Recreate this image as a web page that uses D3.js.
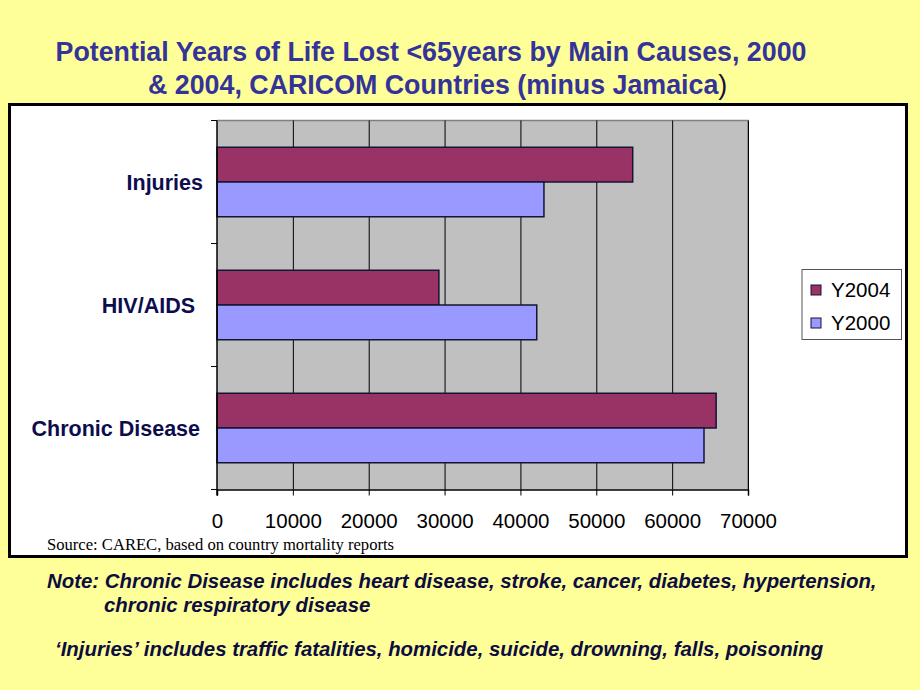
<!DOCTYPE html>
<html>
<head>
<meta charset="utf-8">
<script src="https://cdn.jsdelivr.net/npm/d3@7"></script>
<style>
  html, body { margin: 0; padding: 0; background: #FFFF99; }
  svg { display: block; }
</style>
</head>
<body>
<svg id="chart" width="920" height="690"></svg>
<script>
// ---- data ----
const categories = ["Injuries", "HIV/AIDS", "Chronic Disease"];
const seriesNames = ["Y2004", "Y2000"];
const y2004 = [54800, 29250, 65800];
const y2000 = [43100, 42150, 64200];
const xTicks = [0, 10000, 20000, 30000, 40000, 50000, 60000, 70000];
const seriesColors = ["#993366", "#9999FF"];
const titleLines = ["Potential Years of Life Lost <65years by Main Causes, 2000", "& 2004, CARICOM Countries (minus Jamaica"];
const sourceText = "Source: CAREC, based on country mortality reports";
const noteLines = [
  "Note: Chronic Disease includes heart disease, stroke, cancer, diabetes, hypertension,",
  "chronic respiratory disease",
  "\u2018Injuries\u2019 includes traffic fatalities, homicide, suicide, drowning, falls, poisoning"
];

const rows = categories.map((c, i) => ({ cat: c, values: [y2004[i], y2000[i]] }));

const svg = d3.select("#chart");
svg.append("rect").attr("x", 0).attr("y", 0).attr("width", 920).attr("height", 690).attr("fill", "#FFFF99");

// Title
const title = svg.append("g").attr("font-family", "Arial, 'Liberation Sans', sans-serif")
  .attr("font-weight", "bold").attr("font-size", 26.8).attr("fill", "#333399");
title.append("text").attr("x", 431).attr("y", 61).attr("text-anchor", "middle").text(titleLines[0]);
const t2 = title.append("text").attr("x", 148).attr("y", 94).attr("text-anchor", "start");
t2.append("tspan").text(titleLines[1]);
t2.append("tspan").attr("font-weight", "normal").attr("fill", "#111133").text(")");

// Chart box
svg.append("rect").attr("x", 9.5).attr("y", 104.5).attr("width", 897).attr("height", 452)
  .attr("fill", "#FFFFFF").attr("stroke", "#000000").attr("stroke-width", 3);

const plot = { left: 217, right: 748, top: 120.5, bottom: 489.5 };

const x = d3.scaleLinear().domain([0, 70000]).range([plot.left, plot.right]);
const y = d3.scaleBand().domain(categories).range([plot.top, plot.bottom])
  .paddingInner(0.435).paddingOuter(0.2175);
const ySub = d3.scaleBand().domain(seriesNames).range([0, y.bandwidth()]);
const color = d3.scaleOrdinal().domain(seriesNames).range(seriesColors);

// plot background
svg.append("rect").attr("x", plot.left).attr("y", plot.top)
  .attr("width", plot.right - plot.left).attr("height", plot.bottom - plot.top)
  .attr("fill", "#C0C0C0");

// top and right border (grey)
svg.append("path")
  .attr("d", `M${plot.left},${plot.top}H${plot.right}V${plot.bottom}`)
  .attr("fill", "none").attr("stroke", "#808080").attr("stroke-width", 1.5);

// gridlines
svg.append("g").attr("transform", `translate(0,${plot.bottom})`)
  .call(d3.axisBottom(x).tickValues(xTicks.slice(1)).tickSize(-(plot.bottom - plot.top)).tickFormat(""))
  .call(g => g.select(".domain").remove())
  .call(g => g.selectAll("line").attr("stroke", "#000000").attr("stroke-width", 1));

// bars
const groups = svg.append("g").selectAll("g").data(rows).join("g")
  .attr("transform", d => `translate(0,${y(d.cat)})`);
groups.selectAll("rect").data(d => d.values.map((v, i) => ({ key: seriesNames[i], v })))
  .join("rect")
  .attr("x", x(0))
  .attr("y", d => ySub(d.key))
  .attr("width", d => x(d.v) - x(0))
  .attr("height", ySub.bandwidth())
  .attr("fill", d => color(d.key))
  .attr("stroke", "#141433")
  .attr("stroke-width", 1.5);

// x axis
const xAxis = svg.append("g").attr("transform", `translate(0,${plot.bottom})`)
  .call(d3.axisBottom(x).tickValues(xTicks).tickSize(6).tickPadding(14).tickFormat(d3.format("d")));
xAxis.select(".domain").attr("stroke", "#000").attr("stroke-width", 1.5);
xAxis.selectAll("line").attr("stroke", "#000");
xAxis.selectAll("text").attr("font-family", "Arial, 'Liberation Sans', sans-serif")
  .attr("font-size", 20.5).attr("fill", "#000").attr("dy", "0.9em");

// y axis (ticks at category boundaries)
const boundaries = categories.map(c => y(c) - y.step() * y.paddingOuter()).concat([plot.bottom]);
const yAxis = svg.append("g");
yAxis.append("line").attr("x1", plot.left).attr("x2", plot.left)
  .attr("y1", plot.top).attr("y2", plot.bottom + 6).attr("stroke", "#000").attr("stroke-width", 1.5);
yAxis.selectAll("line.tk").data(boundaries).join("line").attr("class", "tk")
  .attr("x1", plot.left - 6).attr("x2", plot.left).attr("y1", d => d).attr("y2", d => d)
  .attr("stroke", "#000").attr("stroke-width", 1);
yAxis.selectAll("text").data(categories).join("text")
  .attr("x", (d) => d === "HIV/AIDS" ? 195 : (d === "Injuries" ? 203 : 200))
  .attr("y", d => y(d) + y.bandwidth() / 2)
  .attr("dy", "0.36em")
  .attr("text-anchor", "end")
  .attr("font-family", "Arial, 'Liberation Sans', sans-serif")
  .attr("font-weight", "bold").attr("font-size", 21.5).attr("fill", "#0D0D4D")
  .text(d => d);

// legend
const legend = svg.append("g");
legend.append("rect").attr("x", 802).attr("y", 269.5).attr("width", 99.5).attr("height", 70)
  .attr("fill", "#FFFFFF").attr("stroke", "#555555").attr("stroke-width", 1);
const li = legend.selectAll("g.item").data(seriesNames).join("g").attr("class", "item")
  .attr("transform", (d, i) => `translate(811,${290 + i * 33})`);
li.append("rect").attr("x", 0).attr("y", -5).attr("width", 10).attr("height", 10)
  .attr("fill", d => color(d)).attr("stroke", "#141433").attr("stroke-width", 1);
li.append("text").attr("x", 20).attr("y", 0).attr("dy", "0.36em")
  .attr("font-family", "Arial, 'Liberation Sans', sans-serif").attr("font-size", 20.5).attr("fill", "#000")
  .text(d => d);

// source
svg.append("text").attr("x", 47).attr("y", 550)
  .attr("font-family", "'Times New Roman', 'Liberation Serif', serif").attr("font-size", 16.6).attr("fill", "#000")
  .text(sourceText);

// notes
const notes = svg.append("g").attr("font-family", "Arial, 'Liberation Sans', sans-serif")
  .attr("font-weight", "bold").attr("font-style", "italic").attr("font-size", 20.4).attr("fill", "#0D0D40");
notes.append("text").attr("x", 47).attr("y", 588).text(noteLines[0]);
notes.append("text").attr("x", 104).attr("y", 612).text(noteLines[1]);
notes.append("text").attr("x", 55).attr("y", 656).text(noteLines[2]);
</script>
</body>
</html>
